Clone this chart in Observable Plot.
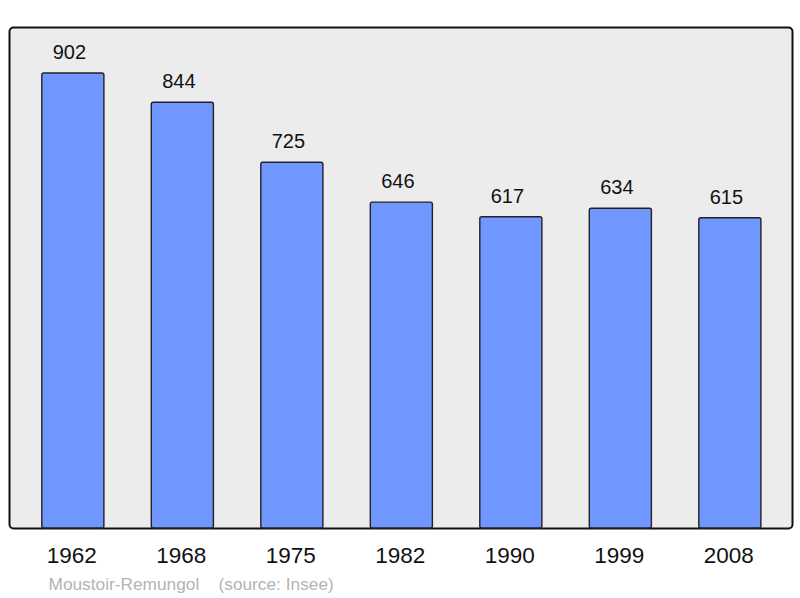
<!DOCTYPE html>
<html>
<head>
<meta charset="utf-8">
<script src="https://cdn.jsdelivr.net/npm/d3@7"></script>
<script src="https://cdn.jsdelivr.net/npm/@observablehq/plot@0.6"></script>
<style>
  html, body { margin: 0; padding: 0; background: #fff; }
  svg { display: block; font-family: "Liberation Sans", Arial, sans-serif; }
</style>
</head>
<body>
<div id="chart"></div>
<script>
const years = ["1962", "1968", "1975", "1982", "1990", "1999", "2008"];
const population = [902, 844, 725, 646, 617, 634, 615];
const caption = "Moustoir-Remungol\u00a0\u00a0\u00a0\u00a0(source: Insee)";

const data = years.map((y, i) => ({year: y, pop: population[i]}));

const chart = Plot.plot({
  width: 800,
  height: 598,
  marginLeft: 9,
  marginRight: 8,
  marginTop: 27,
  marginBottom: 70,
  style: {fontFamily: "'Liberation Sans', Arial, sans-serif", background: "#ffffff"},
  x: {domain: years, range: [18.1, 784.6], paddingInner: 0.433, paddingOuter: 0.2165, round: false, label: null},
  y: {domain: [0, 993.3], range: [528, 27], axis: null},
  marks: [
    Plot.frame({fill: "#ececec", stroke: "#111", strokeWidth: 2, rx: 4}),
    Plot.barY(data, {x: "year", y: "pop", fill: "#7096ff", stroke: "#222", strokeWidth: 1.4, rx: 2}),
    Plot.text(data, {x: "year", y: "pop", text: d => String(d.pop), dx: -4, dy: -14.5, lineAnchor: "bottom", fontSize: 20, fill: "#111"}),
    Plot.axisX({tickSize: 0, tickPadding: 19, dx: -1.5, fontSize: 22.5, color: "#111", label: null}),
    Plot.text([caption], {text: d => d, frameAnchor: "bottom-left", dx: 39, dy: 61, lineAnchor: "bottom", textAnchor: "start", fontSize: 17.3, fill: "#b3b3b3"})
  ]
});
document.getElementById("chart").appendChild(chart);
</script>
</body>
</html>
